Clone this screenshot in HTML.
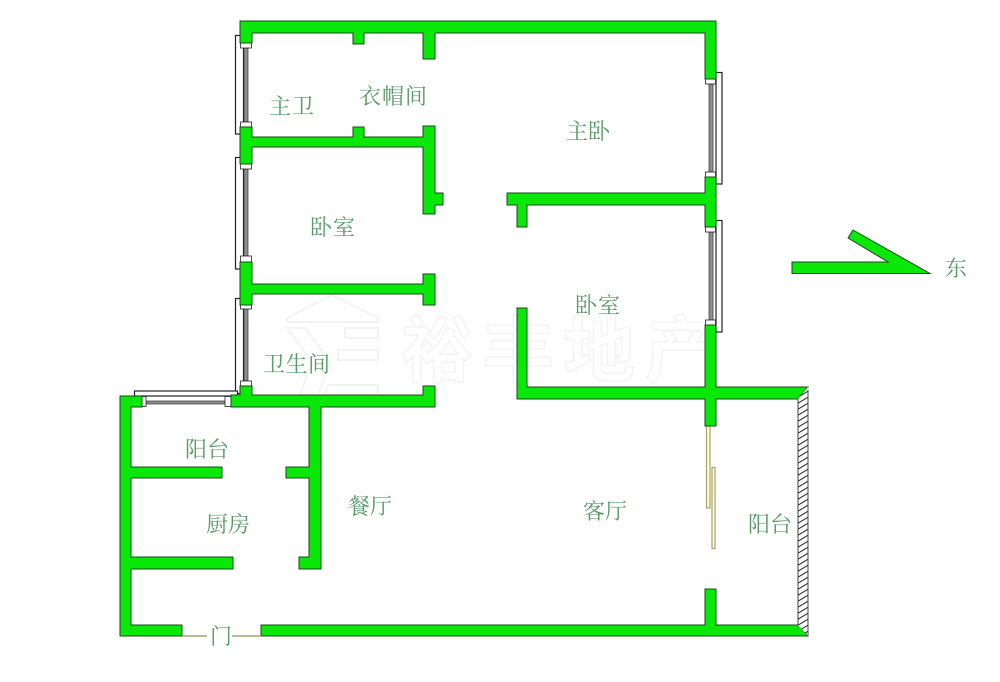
<!DOCTYPE html>
<html><head><meta charset="utf-8"><style>
html,body{margin:0;padding:0;background:#fff;width:1000px;height:682px;overflow:hidden}
svg{display:block}
.l{font-family:"Liberation Serif","Noto Serif CJK SC",serif;font-size:22px;fill:#5a9a68}
.w{font-family:"Liberation Sans","Noto Sans CJK SC",sans-serif;font-size:72px;font-weight:700;fill:#fff;stroke:#f3f3f3;stroke-width:1.5}
.g{fill:#0ae80a;stroke:#1a4a1a;stroke-width:1}
</style></head><body>
<svg width="1000" height="682" viewBox="0 0 1000 682" xmlns="http://www.w3.org/2000/svg">
<defs>
<pattern id="h" width="10" height="6" patternUnits="userSpaceOnUse">
<rect width="10" height="6" fill="#fff"/>
<path d="M-1,6.6 L11,-0.6 M-11,6.6 L1,-0.6 M9,6.6 L21,-0.6" stroke="#333" stroke-width="1.1"/>
</pattern>
</defs>
<rect width="1000" height="682" fill="#fff"/>

<!-- watermark -->
<g fill="none" stroke="#f3f3f3" stroke-width="2">
<path d="M287,318 L332,295 L378,318 L378,322 L287,322 Z"/>
<path d="M287,328 L305,328 L330,362 L318,395 L300,395 L312,362 Z"/>
<path d="M345,328 L378,328 L378,338 L345,338 Z M338,350 L378,350 L378,360 L338,360 Z M328,385 L378,385 L378,395 L324,395 Z"/>
</g>
<text class="w" x="401" y="376">裕</text>
<text class="w" x="482" y="376">丰</text>
<text class="w" x="563" y="376">地</text>
<text class="w" x="645" y="376">产</text>

<!-- window frames -->
<g fill="#fff" stroke="#222" stroke-width="1.2">
<rect x="235.5" y="35.5" width="8" height="98.5"/>
<rect x="235.5" y="157.5" width="8" height="111.5"/>
<rect x="235.5" y="298.5" width="8" height="95"/>
<rect x="134.5" y="391" width="103" height="5"/>
<rect x="716" y="72.5" width="6" height="111.5"/>
<rect x="716" y="220.5" width="6" height="111.5"/>
</g>
<g fill="#8e8e8e" stroke="#333" stroke-width=".7">
<rect x="244" y="48" width="4" height="74"/>
<rect x="244" y="169" width="4" height="87"/>
<rect x="244" y="309" width="4" height="72"/>
<rect x="709" y="84" width="4" height="88"/>
<rect x="709" y="232" width="4" height="88"/>
<rect x="146" y="401" width="79" height="3"/>
</g>
<g fill="#fff" stroke="#222" stroke-width=".8">
<rect x="240.5" y="43" width="11" height="5"/>
<rect x="240.5" y="122" width="11" height="5"/>
<rect x="240.5" y="164" width="11" height="5"/>
<rect x="240.5" y="256" width="11" height="6"/>
<rect x="240.5" y="305" width="11" height="4"/>
<rect x="240.5" y="381" width="11" height="5"/>
<rect x="705.5" y="79" width="10" height="5"/>
<rect x="705.5" y="172" width="10" height="5"/>
<rect x="705.5" y="227" width="10" height="5"/>
<rect x="705.5" y="320" width="10" height="5"/>
<rect x="142" y="396.5" width="4" height="10"/>
<rect x="225" y="396.5" width="6" height="10"/>
</g>

<!-- door leaves -->
<g fill="#fffbe0" stroke="#a9a368" stroke-width="1.2">
<rect x="706.5" y="426" width="3.5" height="82"/>
<rect x="712" y="467.5" width="3" height="81"/>
</g>

<!-- walls -->
<path class="g" d="M240,21 H716 V79 H705 V33 H435 V59 H423 V33 H364 V44 H353 V33 H252 V43 H240 Z"/>
<path class="g" d="M240,127 H252 V137 H353 V127 H364 V137 H423 V126 H435 V193 H443 V205 H435 V214 H423 V147 H252 V164 H240 Z"/>
<path class="g" d="M240,262 H252 V284 H423 V274 H435 V305 H423 V294 H252 V305 H240 Z"/>
<path class="g" d="M240,386 H252 V395 H423 V386 H435 V407 H321 V569 H299 V557 H309 V478 H286 V467 H309 V407 H231 V395 H240 Z"/>
<path class="g" d="M120,396 H142 V407 H131 V467 H222 V478 H131 V557 H233 V569 H131 V625 H182 V636 H120 Z"/>
<path class="g" d="M705,177 H716 V227 H705 V205 H527 V227 H517 V205 H507 V193 H705 Z"/>
<path class="g" d="M517,308 H527 V387 H705 V325 H716 V387 H808 L798,399 H716 V426 H705 V399 H517 Z"/>
<path class="g" d="M261,625 H705 V589 H716 V625 H798 L808,636 H261 Z"/>

<!-- hatch -->
<polygon points="808,387 808,636 798,625.5 798,399" fill="url(#h)"/>
<path d="M798,399 V625.5 M808,390 V636" stroke="#444" stroke-width="1" fill="none"/>

<!-- door line -->
<path d="M182,636 H207 M232,636 H261" stroke="#a7a074" stroke-width="1.5" fill="none"/>

<!-- compass -->
<polygon class="g" points="792,262 888,262 848,238 853,230 930,273.5 792,273.5"/>

<!-- labels -->
<text class="l" x="269" y="114" textLength="45">主卫</text>
<text class="l" x="359" y="104" textLength="68">衣帽间</text>
<text class="l" x="566" y="139" textLength="44">主卧</text>
<text class="l" x="310" y="235" textLength="45">卧室</text>
<text class="l" x="575" y="313" textLength="45">卧室</text>
<text class="l" x="263" y="372" textLength="67">卫生间</text>
<text class="l" x="185" y="457" textLength="44">阳台</text>
<text class="l" x="206" y="532" textLength="44">厨房</text>
<text class="l" x="348" y="514" textLength="44">餐厅</text>
<text class="l" x="583" y="519" textLength="44">客厅</text>
<text class="l" x="748" y="532" textLength="44">阳台</text>
<text class="l" x="945" y="276" textLength="21">东</text>
<text class="l" x="210" y="644" textLength="21">门</text>
</svg>
</body></html>
